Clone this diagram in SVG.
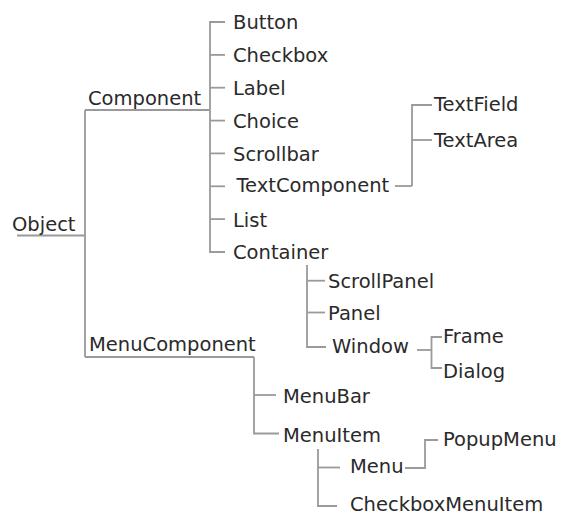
<svg xmlns="http://www.w3.org/2000/svg" width="562" height="516" viewBox="0 0 562 516">
<style>
  .lbl { font-family: "DejaVu Sans", "Noto Sans", sans-serif; font-size: 19.5px; fill: #2a2a2a; }
  .con { fill: none; stroke: #9a9a9a; stroke-width: 1.8; }
</style>
<rect width="562" height="516" fill="#ffffff"/>
<g id="connectors" class="con">
  <path d="M17,235.5 H85"/>
  <path d="M85,110 V357"/>
  <path d="M85,110 H210"/>
  <path d="M85,357 H254"/>
  <path d="M225,22 H210 V252 H225"/>
  <path d="M210,54.9 H225"/>
  <path d="M210,87.7 H225"/>
  <path d="M210,120.6 H225"/>
  <path d="M210,153.4 H225"/>
  <path d="M210,186.3 H225"/>
  <path d="M210,219.1 H225"/>
  <path d="M395,186 H412"/>
  <path d="M432,105 H412 V186"/>
  <path d="M412,140 H432"/>
  <path d="M307,265 V347 H326"/>
  <path d="M307,280.7 H325"/>
  <path d="M307,312.5 H325"/>
  <path d="M417,350 H431.5"/>
  <path d="M442,337 H431.5 V368 H442"/>
  <path d="M254,357 V433.5 H279"/>
  <path d="M254,395 H276"/>
  <path d="M318,449 V506 H337"/>
  <path d="M318,467.5 H340"/>
  <path d="M405,468 H425 V440 H438"/>
</g>
<g id="node-object"><text class="lbl" x="12" y="230.5">Object</text></g>
<g id="node-component"><text class="lbl" x="88" y="105">Component</text></g>
<g id="node-button"><text class="lbl" x="233" y="28.5">Button</text></g>
<g id="node-checkbox"><text class="lbl" x="233" y="61.5">Checkbox</text></g>
<g id="node-label"><text class="lbl" x="233" y="94.5">Label</text></g>
<g id="node-choice"><text class="lbl" x="233" y="127.5">Choice</text></g>
<g id="node-scrollbar"><text class="lbl" x="233" y="160.5">Scrollbar</text></g>
<g id="node-textcomponent"><text class="lbl" x="236.5" y="192">TextComponent</text></g>
<g id="node-list"><text class="lbl" x="233" y="226.5">List</text></g>
<g id="node-container"><text class="lbl" x="233" y="259">Container</text></g>
<g id="node-textfield"><text class="lbl" x="434" y="111">TextField</text></g>
<g id="node-textarea"><text class="lbl" x="434" y="147">TextArea</text></g>
<g id="node-scrollpanel"><text class="lbl" x="328" y="288">ScrollPanel</text></g>
<g id="node-panel"><text class="lbl" x="328" y="320">Panel</text></g>
<g id="node-window"><text class="lbl" x="332" y="352.5">Window</text></g>
<g id="node-frame"><text class="lbl" x="443" y="343">Frame</text></g>
<g id="node-dialog"><text class="lbl" x="443" y="377.5">Dialog</text></g>
<g id="node-menucomponent"><text class="lbl" x="89" y="350.5">MenuComponent</text></g>
<g id="node-menubar"><text class="lbl" x="283" y="402.5">MenuBar</text></g>
<g id="node-menuitem"><text class="lbl" x="283" y="441.5">MenuItem</text></g>
<g id="node-menu"><text class="lbl" x="350" y="472.5">Menu</text></g>
<g id="node-popupmenu"><text class="lbl" x="443" y="446">PopupMenu</text></g>
<g id="node-checkboxmenuitem"><text class="lbl" x="350" y="510.5">CheckboxMenuItem</text></g>
</svg>
